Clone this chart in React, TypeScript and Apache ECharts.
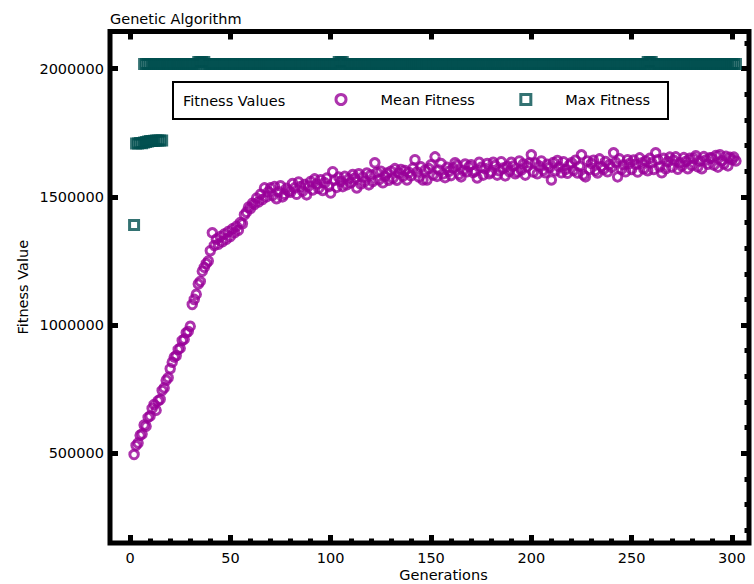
import { useEffect, useRef } from "react";
import * as echarts from "echarts";

const titleText = "Genetic Algorithm";
const xAxisName = "Generations";
const yAxisName = "Fitness Value";
const legendTitle = "Fitness Values";
const meanName = "Mean Fitness";
const maxName = "Max Fitness";

const xTickValues = [0, 50, 100, 150, 200, 250, 300];
const xMinorTickValues = [
  0, 10, 20, 30, 40, 50, 60, 70, 80, 90, 100, 110, 120, 130, 140, 150, 160, 170, 180, 190, 200,
  210, 220, 230, 240, 250, 260, 270, 280, 290, 300,
];
const yTickValues = [500000, 1000000, 1500000, 2000000];
const yMinorTickValues = [
  200000, 300000, 400000, 600000, 700000, 800000, 900000, 1100000, 1200000, 1300000, 1400000,
  1600000, 1700000, 1800000, 1900000, 2100000,
];

// Mean fitness, one value per generation starting at generation 2
const meanStartGen = 2;
const meanFitness = [
  // 2-9
  495000, 530000, 540000, 570000, 575000, 610000, 605000, 640000,
  // 10-19
  645000, 675000, 690000, 668000, 705000, 710000, 745000, 755000, 785000, 795000,
  // 20-29
  830000, 855000, 875000, 880000, 905000, 910000, 940000, 945000, 970000, 975000,
  // 30-39
  995000, 1080000, 1100000, 1120000, 1160000, 1170000, 1210000, 1225000, 1240000, 1250000,
  // 40-49
  1290000, 1360000, 1310000, 1335000, 1315000, 1345000, 1325000, 1355000, 1335000, 1365000,
  // 50-59
  1345000, 1375000, 1360000, 1385000, 1370000, 1400000, 1395000, 1430000, 1440000, 1460000,
  // 60-69
  1455000, 1475000, 1470000, 1495000, 1480000, 1510000, 1490000, 1535000, 1500000, 1520000,
  // 70-79
  1535000, 1505000, 1540000, 1493000, 1520000, 1543000, 1500000, 1510000, 1533000, 1523000,
  // 80-89
  1518000, 1552000, 1535000, 1510000, 1558000, 1540000, 1522000, 1548000, 1508000, 1542000,
  // 90-99
  1560000, 1527000, 1570000, 1550000, 1533000, 1567000, 1525000, 1555000, 1573000, 1540000,
  // 100-109
  1515000, 1598000, 1565000, 1537000, 1577000, 1560000, 1540000, 1580000, 1547000, 1570000,
  // 110-119
  1555000, 1587000, 1573000, 1535000, 1590000, 1550000, 1577000, 1560000, 1593000, 1547000,
  // 120-129
  1585000, 1560000, 1633000, 1595000, 1567000, 1600000, 1555000, 1580000, 1593000, 1565000,
  // 130-139
  1600000, 1573000, 1610000, 1565000, 1593000, 1607000, 1580000, 1603000, 1566000, 1595000,
  // 140-149
  1582000, 1612000, 1645000, 1597000, 1577000, 1617000, 1566000, 1604000, 1566000, 1610000,
  // 150-159
  1625000, 1585000, 1656000, 1580000, 1605000, 1630000, 1590000, 1575000, 1615000, 1600000,
  // 160-169
  1583000, 1613000, 1633000, 1623000, 1588000, 1578000, 1603000, 1628000, 1598000, 1618000,
  // 170-179
  1625000, 1595000, 1600000, 1574000, 1635000, 1615000, 1585000, 1610000, 1630000, 1590000,
  // 180-189
  1597000, 1635000, 1622000, 1585000, 1602000, 1637000, 1612000, 1582000, 1619000, 1599000,
  // 190-199
  1635000, 1620000, 1590000, 1598000, 1640000, 1605000, 1628000, 1585000, 1618000, 1632000,
  // 200-209
  1664000, 1597000, 1632000, 1590000, 1620000, 1640000, 1604000, 1594000, 1627000, 1614000,
  // 210-219
  1566000, 1634000, 1602000, 1642000, 1617000, 1594000, 1637000, 1607000, 1592000, 1624000,
  // 220-229
  1633000, 1603000, 1643000, 1593000, 1620000, 1664000, 1586000, 1578000, 1640000, 1607000,
  // 230-239
  1630000, 1643000, 1603000, 1593000, 1648000, 1618000, 1608000, 1638000, 1598000, 1626000,
  // 240-249
  1615000, 1672000, 1635000, 1578000, 1648000, 1608000, 1625000, 1598000, 1645000, 1630000,
  // 250-259
  1607000, 1644000, 1627000, 1597000, 1652000, 1632000, 1610000, 1640000, 1602000, 1650000,
  // 260-269
  1633000, 1607000, 1672000, 1645000, 1617000, 1594000, 1650000, 1610000, 1637000, 1655000,
  // 270-279
  1616000, 1643000, 1656000, 1608000, 1633000, 1620000, 1653000, 1638000, 1610000, 1650000,
  // 280-289
  1622000, 1650000, 1660000, 1617000, 1640000, 1610000, 1657000, 1644000, 1627000, 1652000,
  // 290-299
  1651000, 1624000, 1661000, 1616000, 1664000, 1641000, 1628000, 1658000, 1621000, 1654000,
  // 300-302
  1645000, 1655000, 1640000,
];

// Max fitness, first run of records: generations 2-16
const maxEarlyStartGen = 2;
const maxEarly = [
  1390000, 1708000, 1708000, 1710000, 1709000, 1712000, 1714000, 1716000, 1718000, 1718000,
  1719000, 1720000, 1720000, 1720000, 1720000,
];

// Max fitness, second run of records: generations 7-302
const maxLateStartGen = 7;
const maxLate = [
  // 7-9
  2018000, 2018000, 2018000,
  // 10-19
  2018000, 2018000, 2018000, 2018000, 2018000, 2018000, 2018000, 2018000, 2018000, 2018000,
  // 20-29
  2018000, 2018000, 2018000, 2018000, 2018000, 2018000, 2018000, 2018000, 2018000, 2018000,
  // 30-39
  2018000, 2018000, 2018000, 2018000, 2026000, 2026000, 2026000, 2026000, 2018000, 2018000,
  // 40-49
  2018000, 2018000, 2018000, 2018000, 2018000, 2018000, 2018000, 2018000, 2018000, 2018000,
  // 50-59
  2018000, 2018000, 2018000, 2018000, 2018000, 2018000, 2018000, 2018000, 2018000, 2018000,
  // 60-69
  2018000, 2018000, 2018000, 2018000, 2018000, 2018000, 2018000, 2018000, 2018000, 2018000,
  // 70-79
  2018000, 2018000, 2018000, 2018000, 2018000, 2018000, 2018000, 2018000, 2018000, 2018000,
  // 80-89
  2018000, 2018000, 2018000, 2018000, 2018000, 2018000, 2018000, 2018000, 2018000, 2018000,
  // 90-99
  2018000, 2018000, 2018000, 2018000, 2018000, 2018000, 2018000, 2018000, 2018000, 2018000,
  // 100-109
  2018000, 2018000, 2018000, 2018000, 2026000, 2026000, 2026000, 2018000, 2018000, 2018000,
  // 110-119
  2018000, 2018000, 2018000, 2018000, 2018000, 2018000, 2018000, 2018000, 2018000, 2018000,
  // 120-129
  2018000, 2018000, 2018000, 2018000, 2018000, 2018000, 2018000, 2018000, 2018000, 2018000,
  // 130-139
  2018000, 2018000, 2018000, 2018000, 2018000, 2018000, 2018000, 2018000, 2018000, 2018000,
  // 140-149
  2018000, 2018000, 2018000, 2018000, 2018000, 2018000, 2018000, 2018000, 2018000, 2018000,
  // 150-159
  2018000, 2018000, 2018000, 2018000, 2018000, 2018000, 2018000, 2018000, 2018000, 2018000,
  // 160-169
  2018000, 2018000, 2018000, 2018000, 2018000, 2018000, 2018000, 2018000, 2018000, 2018000,
  // 170-179
  2018000, 2018000, 2018000, 2018000, 2018000, 2018000, 2018000, 2018000, 2018000, 2018000,
  // 180-189
  2018000, 2018000, 2018000, 2018000, 2018000, 2018000, 2018000, 2018000, 2018000, 2018000,
  // 190-199
  2018000, 2018000, 2018000, 2018000, 2018000, 2018000, 2018000, 2018000, 2018000, 2018000,
  // 200-209
  2018000, 2018000, 2018000, 2018000, 2018000, 2018000, 2018000, 2018000, 2018000, 2018000,
  // 210-219
  2018000, 2018000, 2018000, 2018000, 2018000, 2018000, 2018000, 2018000, 2018000, 2018000,
  // 220-229
  2018000, 2018000, 2018000, 2018000, 2018000, 2018000, 2018000, 2018000, 2018000, 2018000,
  // 230-239
  2018000, 2018000, 2018000, 2018000, 2018000, 2018000, 2018000, 2018000, 2018000, 2018000,
  // 240-249
  2018000, 2018000, 2018000, 2018000, 2018000, 2018000, 2018000, 2018000, 2018000, 2018000,
  // 250-259
  2018000, 2018000, 2018000, 2018000, 2018000, 2018000, 2018000, 2018000, 2026000, 2026000,
  // 260-269
  2026000, 2018000, 2018000, 2018000, 2018000, 2018000, 2018000, 2018000, 2018000, 2018000,
  // 270-279
  2018000, 2018000, 2018000, 2018000, 2018000, 2018000, 2018000, 2018000, 2018000, 2018000,
  // 280-289
  2018000, 2018000, 2018000, 2018000, 2018000, 2018000, 2018000, 2018000, 2018000, 2018000,
  // 290-299
  2018000, 2018000, 2018000, 2018000, 2018000, 2018000, 2018000, 2018000, 2018000, 2018000,
  // 300-302
  2018000, 2018000, 2018000,
];

const FONT = "DejaVu Sans";
const FS = 14.5;
const MEAN_COLOR = "#990099";
const MAX_COLOR = "#004f4f";
const X_MIN = -10;
const X_MAX = 308.5;
const Y_MIN = 150000;
const Y_MAX = 2145000;

export default function App() {
  const ref = useRef<HTMLDivElement>(null);

  useEffect(() => {
    if (!ref.current) return;
    const chart = echarts.init(ref.current, null, { renderer: "svg" });

    const meanData = meanFitness.map((v, i) => [meanStartGen + i, v]);
    const maxData = [
      ...maxEarly.map((v, i) => [maxEarlyStartGen + i, v]),
      ...maxLate.map((v, i) => [maxLateStartGen + i, v]),
    ];

    const hiddenLabel = { show: false };
    const noLine = { show: false, onZero: false };
    const noSplit = { show: false };
    const tickStyle = { color: "#000", width: 5 };
    const plain = (v: number) => String(v);

    const option: any = {
      animation: false,
      backgroundColor: "#fff",
      title: {
        text: titleText,
        left: 110,
        top: 11,
        padding: 0,
        textStyle: { fontFamily: FONT, fontSize: FS, fontWeight: "normal", color: "#000" },
      },
      grid: {
        left: 110,
        right: 5,
        top: 31.5,
        bottom: 41,
        show: true,
        borderColor: "#000",
        borderWidth: 5,
        backgroundColor: "transparent",
        containLabel: false,
        outerBoundsMode: "none",
      },
      legend: {
        data: [
          { name: meanName, icon: "circle" },
          { name: maxName, icon: "rect" },
        ],
        left: 334.5,
        top: 92,
        itemWidth: 10,
        itemHeight: 10,
        itemGap: 44.5,
        padding: 0,
        selectedMode: false,
        itemStyle: { borderWidth: 3 },
        textStyle: { fontFamily: FONT, fontSize: FS, color: "#000", padding: [0, 0, 0, 29.5] },
      },
      graphic: [
        {
          type: "rect",
          z: 1,
          shape: { x: 173, y: 82, width: 495, height: 37 },
          style: { fill: "#fff", stroke: "#000", lineWidth: 2 },
        },
        {
          type: "text",
          z: 2,
          x: 183,
          y: 101,
          style: {
            text: legendTitle,
            font: `${FS}px "${FONT}"`,
            fill: "#000",
            verticalAlign: "middle",
          },
        },
      ],
      xAxis: [
        {
          type: "value",
          position: "bottom",
          min: X_MIN,
          max: X_MAX,
          axisLine: noLine,
          splitLine: noSplit,
          axisTick: { inside: true, length: 8, customValues: xTickValues, lineStyle: tickStyle },
          axisLabel: {
            customValues: xTickValues,
            formatter: plain,
            margin: 7,
            color: "#000",
            fontFamily: FONT,
            fontSize: FS,
          },
          name: xAxisName,
          nameLocation: "middle",
          nameGap: 24.5,
          nameMoveOverlap: false,
          nameTextStyle: { fontFamily: FONT, fontSize: FS, color: "#000", padding: [0, 0, 0, 28] },
        },
        {
          type: "value",
          position: "bottom",
          min: X_MIN,
          max: X_MAX,
          axisLine: noLine,
          splitLine: noSplit,
          axisLabel: hiddenLabel,
          axisTick: { inside: true, length: 4.5, customValues: xMinorTickValues, lineStyle: tickStyle },
        },
        {
          type: "value",
          position: "top",
          min: X_MIN,
          max: X_MAX,
          axisLine: noLine,
          splitLine: noSplit,
          axisLabel: hiddenLabel,
          axisTick: { inside: true, length: 8, customValues: xTickValues, lineStyle: tickStyle },
        },
      ],
      yAxis: [
        {
          type: "value",
          position: "left",
          min: Y_MIN,
          max: Y_MAX,
          axisLine: noLine,
          splitLine: noSplit,
          axisTick: { inside: true, length: 8, customValues: yTickValues, lineStyle: tickStyle },
          axisLabel: {
            customValues: yTickValues,
            formatter: plain,
            margin: 6,
            color: "#000",
            fontFamily: FONT,
            fontSize: FS,
          },
          name: yAxisName,
          nameLocation: "middle",
          nameGap: 80,
          nameMoveOverlap: false,
          nameTextStyle: { fontFamily: FONT, fontSize: FS, color: "#000" },
        },
        {
          type: "value",
          position: "right",
          min: Y_MIN,
          max: Y_MAX,
          axisLine: noLine,
          splitLine: noSplit,
          axisLabel: hiddenLabel,
          axisTick: { inside: true, length: 8, customValues: yTickValues, lineStyle: tickStyle },
        },
        {
          type: "value",
          position: "right",
          min: Y_MIN,
          max: Y_MAX,
          axisLine: noLine,
          splitLine: noSplit,
          axisLabel: hiddenLabel,
          axisTick: { inside: true, length: 4.5, customValues: yMinorTickValues, lineStyle: tickStyle },
        },
      ],
      series: [
        {
          type: "scatter",
          name: meanName,
          xAxisIndex: 0,
          yAxisIndex: 0,
          data: meanData,
          symbol: "circle",
          symbolSize: 8.5,
          itemStyle: { color: "rgba(0,0,0,0)", borderColor: MEAN_COLOR, borderWidth: 3 },
          emphasis: { disabled: true },
        },
        {
          type: "scatter",
          name: maxName,
          xAxisIndex: 0,
          yAxisIndex: 0,
          data: maxData,
          symbol: "rect",
          symbolSize: 9,
          itemStyle: { color: "rgba(0,0,0,0)", borderColor: MAX_COLOR, borderWidth: 3 },
          emphasis: { disabled: true },
        },
      ],
    };

    chart.setOption(option);
    return () => {
      chart.dispose();
    };
  }, []);

  return (
    <div
      ref={ref}
      style={{ position: "fixed", left: 0, top: 0, width: 754, height: 584, background: "#fff" }}
    />
  );
}
